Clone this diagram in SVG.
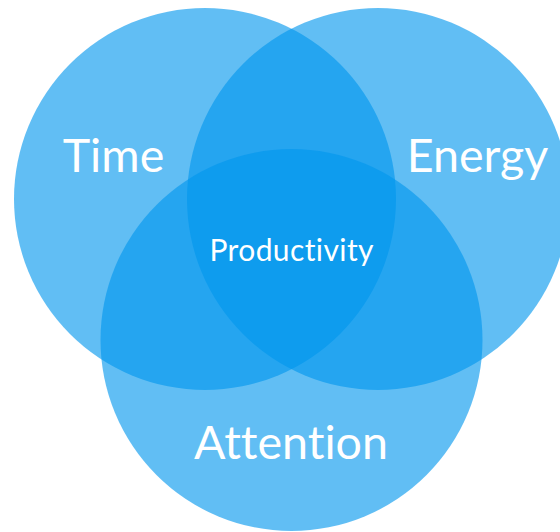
<svg xmlns="http://www.w3.org/2000/svg" width="560" height="532" viewBox="0 0 560 532">
<style>
.c{fill:#0096EE;fill-opacity:0.62}
.t{font-family:Lato,"Open Sans","Liberation Sans",sans-serif;fill:#fff;font-weight:400;font-variant-ligatures:none;font-feature-settings:"liga" 0,"clig" 0,"dlig" 0}
.big{font-size:46.6px}
.small{font-size:30px;letter-spacing:0.4px}
</style>
<rect width="560" height="532" fill="#fff"/>
<g id="time"><circle class="c" cx="205" cy="199" r="191"/></g>
<g id="energy"><circle class="c" cx="378" cy="199" r="191"/></g>
<g id="attention"><circle class="c" cx="291.5" cy="340" r="191"/></g>
<g id="connectors"></g>
<g id="labels">
<text class="t big" x="113.5" y="172" text-anchor="middle">Time</text>
<text class="t big" x="477.5" y="172" text-anchor="middle">Energy</text>
<text class="t big" x="291" y="459" text-anchor="middle">Attention</text>
<text class="t small" x="291.7" y="261" text-anchor="middle">Productivity</text>
</g>
</svg>
